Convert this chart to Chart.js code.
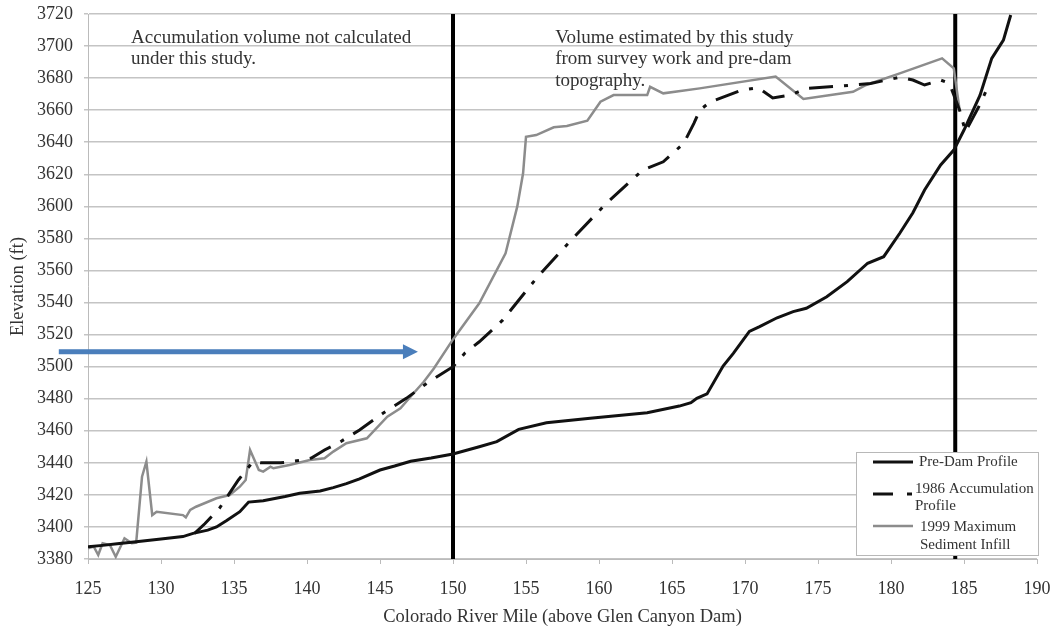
<!DOCTYPE html>
<html>
<head>
<meta charset="utf-8">
<title>Glen Canyon sediment profiles</title>
<script src="https://cdn.jsdelivr.net/npm/chart.js@4/dist/chart.umd.min.js"></script>
<style>
  html, body { margin: 0; padding: 0; background: #fff; }
  #profile-chart { display: block; }
</style>
</head>
<body>
<canvas id="profile-chart" width="1057" height="631"></canvas>
<script>
// river miles / elevations
const preDamMile = [125, 126, 127, 128.3, 130, 131.5, 132.2, 133.2, 133.8, 134.5, 135.4, 136, 137, 138.5, 139.5, 140.9, 141.8, 142.7, 143.6, 145, 146, 147.1, 148.5, 150, 151.8, 153, 154.5, 156.4, 159.4, 163.3, 165.5, 166.3, 166.7, 167.4, 168.5, 169.2, 170.3, 171, 172.2, 173.3, 174.2, 175.6, 177, 178.4, 179.5, 180.6, 181.5, 182.3, 183.4, 184.3, 185, 186.1, 186.9, 187.7, 188.2];
const preDamElev = [3387.7, 3388.5, 3389.5, 3390.8, 3392.5, 3394, 3396, 3398, 3400, 3404, 3409.5, 3415.5, 3416.4, 3419, 3421, 3422.4, 3424.5, 3427, 3430, 3435.5, 3438, 3441, 3443, 3445.5, 3450, 3453.2, 3460.9, 3465, 3467.8, 3471.3, 3475.4, 3477.5, 3480.2, 3483, 3500.4, 3508.3, 3522, 3525, 3530.5, 3534.3, 3536.4, 3543.6, 3553, 3564.5, 3568.6, 3583.2, 3596, 3610.2, 3625.8, 3635.1, 3647.6, 3669.4, 3692.3, 3703.7, 3719.4];

const accum1986Mile = [132.3, 133, 134, 135.3, 136.3, 136.8, 138.2, 139.5, 140.3, 141.2, 142.3, 143.6, 145.2, 146.8, 148.2, 150, 150.8, 151.8, 153.4, 155.7, 158.1, 160.5, 163, 164.4, 165.8, 166.5, 166.9, 167.6, 169.8, 170.9, 171.9, 173.1, 174.2, 176.5, 178.6, 180.6, 181.5, 182.3, 183.4, 184, 184.7, 185.1, 186, 186.6];
const accum1986Elev = [3396, 3402, 3411.6, 3429.3, 3440.7, 3440, 3440, 3441.5, 3443, 3448, 3453.2, 3460.5, 3470.9, 3480.2, 3489.6, 3500, 3508.3, 3515.5, 3529, 3555, 3579, 3601.9, 3622.7, 3627.8, 3639.3, 3651.8, 3660, 3665, 3672.6, 3674, 3667.6, 3669.4, 3673.6, 3675, 3676.7, 3680.5, 3678.8, 3675.7, 3678.8, 3676.7, 3660, 3646.6, 3662, 3673.6];

const infill1999Mile = [125, 125.4, 125.7, 126, 126.5, 126.9, 127.5, 128, 128.3, 128.7, 129, 129.4, 129.7, 131.5, 131.7, 132, 132.4, 133.8, 134.7, 135.4, 135.8, 136.1, 136.7, 137, 137.5, 137.7, 138.8, 140.2, 141.2, 141.8, 142.7, 144.1, 145.5, 146.4, 147.3, 148, 148.7, 150, 151.8, 153.6, 154.4, 154.8, 155, 155.7, 156.9, 157.8, 159.2, 160.1, 161, 163.3, 163.5, 164.4, 166.9, 172.1, 174, 177.4, 178.3, 180.6, 183.5, 184.3, 184.7];
const infill1999Elev = [3386.7, 3387.7, 3382.5, 3389.8, 3388.7, 3381.4, 3392.9, 3389.8, 3390.2, 3431.3, 3440.7, 3407.4, 3409.5, 3407.4, 3406, 3410.6, 3412.6, 3417.9, 3419.9, 3425.1, 3429.3, 3448, 3435.5, 3434.5, 3437.6, 3436.6, 3438.6, 3441.8, 3442.8, 3447, 3452.2, 3455.3, 3468.8, 3474, 3483.4, 3490.6, 3499, 3517, 3539.5, 3570.7, 3599.8, 3620.6, 3643.4, 3644.5, 3649.3, 3650.1, 3653.4, 3665.3, 3669.4, 3669.4, 3674.6, 3670.5, 3673.6, 3681, 3667, 3671.5, 3675.7, 3683, 3692.3, 3686.1, 3660];

// study boundaries (river miles)
const boundaryMiles = [150, 184.4];
const elevRange = [3380, 3720];

// arrow pointing at the 1999 profile: from mile, to mile, elevation
const arrowMiles = [123.0, 147.6];
const arrowElev = 3509.3;

const noteLeft = ["Accumulation volume not calculated", "under this study."];
const noteRight = ["Volume estimated by this study", "from survey work and pre-dam", "topography."];

const legendLabels = [["Pre-Dam Profile"], ["1986 Accumulation", "Profile"], ["1999 Maximum", "Sediment Infill"]];

const serif = "'Liberation Serif', 'Times New Roman', serif";
const inkColor = '#333';
const grayLine = '#8c8c8c';
const dashDot = [24, 11, 4, 11];

function pairs(xs, ys) {
  return xs.map((x, i) => ({x: x, y: ys[i]}));
}

const datasets = [
  {
    label: "Pre-Dam Profile",
    data: pairs(preDamMile, preDamElev),
    borderColor: '#111',
    borderWidth: 3
  }, {
    label: "1986 Accumulation Profile",
    data: pairs(accum1986Mile, accum1986Elev),
    borderColor: '#111',
    borderWidth: 3,
    borderDash: dashDot
  }, {
    label: "1999 Maximum Sediment Infill",
    data: pairs(infill1999Mile, infill1999Elev),
    borderColor: grayLine,
    borderWidth: 2.5
  }
];

boundaryMiles.forEach(m => {
  datasets.push({
    label: 'boundary',
    data: [{x: m, y: elevRange[0]}, {x: m, y: elevRange[1]}],
    borderColor: '#000',
    borderWidth: 4
  });
});

// the scales should not push the plot area around; layout.padding decides
function noScalePadding(s) {
  s.paddingLeft = 0;
  s.paddingRight = 0;
  s.paddingTop = 0;
  s.paddingBottom = 0;
}

const overlay = {
  id: 'overlay',
  afterDatasetsDraw(chart) {
    const ctx = chart.ctx;
    const xs = chart.scales.x, ys = chart.scales.y;
    ctx.save();

    // text notes
    ctx.fillStyle = inkColor;
    ctx.font = '19px ' + serif;
    ctx.textBaseline = 'middle';
    ctx.textAlign = 'left';
    noteLeft.forEach((t, i) => ctx.fillText(t, xs.getPixelForValue(127.95), 38 + i * 21.5));
    noteRight.forEach((t, i) => ctx.fillText(t, xs.getPixelForValue(157.0), 38 + i * 21.5));

    // blue arrow
    const ax0 = xs.getPixelForValue(arrowMiles[0]);
    const ax1 = xs.getPixelForValue(arrowMiles[1]);
    const ay = ys.getPixelForValue(arrowElev);
    ctx.fillStyle = '#4a7ebb';
    ctx.fillRect(ax0, ay - 2.5, ax1 - ax0 - 14, 5);
    ctx.beginPath();
    ctx.moveTo(ax1, ay);
    ctx.lineTo(ax1 - 15, ay - 7.5);
    ctx.lineTo(ax1 - 15, ay + 7.5);
    ctx.closePath();
    ctx.fill();

    // legend box
    const area = chart.chartArea;
    const bw = 182, bh = 103;
    const bx = area.right + 1 - bw, by = area.bottom - 4 - bh;
    ctx.fillStyle = '#fff';
    ctx.fillRect(bx, by, bw, bh);
    ctx.strokeStyle = '#b8b8b8';
    ctx.lineWidth = 1;
    ctx.strokeRect(bx + 0.5, by + 0.5, bw, bh);

    const samples = [
      {y: 10, color: '#111', width: 3, dash: []},
      {y: 42, color: '#111', width: 3, dash: [20, 14, 5, 14]},
      {y: 74, color: grayLine, width: 2.5, dash: []}
    ];
    samples.forEach(s => {
      ctx.beginPath();
      ctx.setLineDash(s.dash);
      ctx.strokeStyle = s.color;
      ctx.lineWidth = s.width;
      ctx.moveTo(bx + 17, by + s.y);
      ctx.lineTo(bx + 57, by + s.y);
      ctx.stroke();
    });
    ctx.setLineDash([]);

    ctx.fillStyle = inkColor;
    ctx.font = '15px ' + serif;
    ctx.fillText(legendLabels[0][0], bx + 63, by + 10);
    ctx.fillText(legendLabels[1][0], bx + 59, by + 37);
    ctx.fillText(legendLabels[1][1], bx + 59, by + 54);
    ctx.fillText(legendLabels[2][0], bx + 64, by + 75);
    ctx.fillText(legendLabels[2][1], bx + 64, by + 93);
    ctx.restore();
  }
};

new Chart(document.getElementById("profile-chart"), {
  type: 'line',
  data: {datasets: datasets},
  plugins: [overlay],
  options: {
    responsive: false,
    animation: false,
    layout: {padding: {top: 14, right: 20, left: 0, bottom: 0}},
    elements: {
      point: {radius: 0},
      line: {tension: 0, borderCapStyle: 'butt'}
    },
    plugins: {
      legend: {display: false},
      tooltip: {enabled: false}
    },
    scales: {
      x: {
        type: 'linear',
        min: 125,
        max: 190,
        afterFit(s) { s.height = 72; noScalePadding(s); },
        ticks: {
          stepSize: 5,
          padding: 14,
          color: inkColor,
          font: {family: serif, size: 18}
        },
        grid: {drawOnChartArea: false, tickLength: 5, color: '#bbb'},
        border: {color: '#bbb'},
        title: {
          display: true,
          text: 'Colorado River Mile (above Glen Canyon Dam)',
          color: inkColor,
          font: {family: serif, size: 18.5},
          padding: {top: 0, bottom: 3}
        }
      },
      y: {
        min: elevRange[0],
        max: elevRange[1],
        afterFit(s) { s.width = 88; noScalePadding(s); },
        ticks: {
          stepSize: 20,
          padding: 11,
          color: inkColor,
          font: {family: serif, size: 18},
          callback: v => String(v)
        },
        grid: {color: '#c4c4c4', lineWidth: 1.5, tickLength: 4},
        border: {color: '#bbb'},
        title: {
          display: true,
          text: 'Elevation (ft)',
          color: inkColor,
          font: {family: serif, size: 18.5},
          padding: {top: 7, bottom: 0}
        }
      }
    }
  }
});
</script>
</body>
</html>
